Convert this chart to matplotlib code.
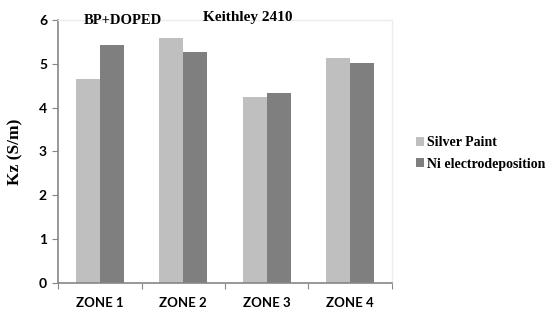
import matplotlib
matplotlib.use("Agg")
import matplotlib.pyplot as plt
import numpy as np

zones = ["ZONE 1", "ZONE 2", "ZONE 3", "ZONE 4"]
silver_paint = [4.65, 5.58, 4.25, 5.14]
ni_electro = [5.43, 5.28, 4.33, 5.01]
series_names = ["Silver Paint", "Ni electrodeposition"]
colors = ["#bfbfbf", "#7f7f7f"]

fig = plt.figure(figsize=(5.59, 3.13), dpi=100)
ax = fig.add_axes([0.104, 0.096, 0.597, 0.84])

x = np.arange(len(zones))
w = 0.287
ax.bar(x - w / 2, silver_paint, w, color=colors[0], label=series_names[0])
ax.bar(x + w / 2, ni_electro, w, color=colors[1], label=series_names[1])

ax.set_xlim(-0.5, len(zones) - 0.5)
ax.set_ylim(0, 6)
ax.set_yticks(range(0, 7))

# category ticks sit on the boundaries, labels in the middle
ax.set_xticks(np.arange(-0.5, len(zones), 1.0))
ax.set_xticklabels([])
ax.set_xticks(x, minor=True)
ax.set_xticklabels(zones, minor=True, fontfamily="Lato", fontweight="bold", fontsize=9.5)
ax.tick_params(axis="x", which="minor", length=0, pad=10)
ax.tick_params(axis="x", which="major", length=4, color="#868686", direction="out")
ax.tick_params(axis="y", length=4, color="#868686", pad=4)
for lab in ax.get_yticklabels():
    lab.set_fontfamily("Lato")
    lab.set_fontweight("bold")
    lab.set_fontsize(10)

for side in ["left", "bottom"]:
    ax.spines[side].set_color("#868686")
    ax.spines[side].set_linewidth(1.2)
for side in ["top", "right"]:
    ax.spines[side].set_color("#ececec")
    ax.spines[side].set_linewidth(1.0)

ax.set_ylabel("Kz (S/m)", fontfamily="Liberation Serif", fontweight="bold", fontsize=12.5, labelpad=11)

fig.text(0.219, 0.935, "BP+DOPED", ha="center", va="center",
         fontfamily="Liberation Serif", fontweight="bold", fontsize=10.5)
fig.text(0.444, 0.945, "Keithley 2410", ha="center", va="center",
         fontfamily="Liberation Serif", fontweight="bold", fontsize=11)

leg = fig.legend(loc="center left", bbox_to_anchor=(0.722, 0.51), frameon=False,
                 handlelength=0.6, handleheight=0.6, handletextpad=0.15,
                 labelspacing=0.6, prop={"family": "Liberation Serif", "weight": "bold", "size": 10})

fig.savefig("out.png", dpi=100)
